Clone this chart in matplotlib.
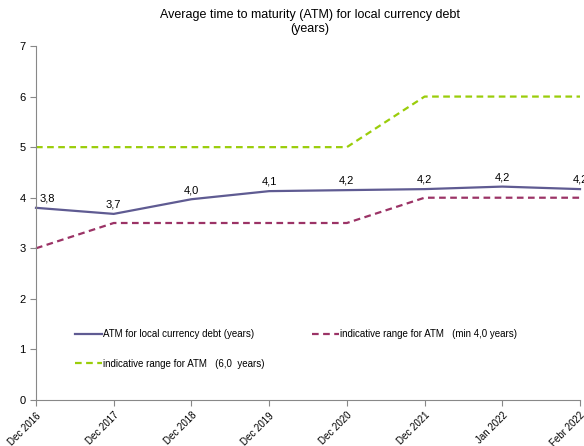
import matplotlib
matplotlib.use("Agg")
import matplotlib.pyplot as plt

plt.rcParams['font.family'] = ['Liberation Sans', 'DejaVu Sans']

categories = ["Dec 2016", "Dec 2017", "Dec 2018", "Dec 2019", "Dec 2020", "Dec 2021", "Jan 2022", "Febr 2022"]
atm = [3.8, 3.68, 3.97, 4.13, 4.15, 4.17, 4.22, 4.17]
atm_labels = ["3,8", "3,7", "4,0", "4,1", "4,2", "4,2", "4,2", "4,2"]
range_min = [3.0, 3.5, 3.5, 3.5, 3.5, 4.0, 4.0, 4.0]
range_max = [5.0, 5.0, 5.0, 5.0, 5.0, 6.0, 6.0, 6.0]

fig = plt.figure(figsize=(5.84, 4.46), dpi=100)
ax = fig.add_axes([36/584, 1-400/446, (580-36)/584, (400-46)/446])

x = list(range(len(categories)))
l1, = ax.plot(x, atm, color='#5F5B92', lw=1.6, label='ATM for local currency debt (years)', clip_on=False)
l2, = ax.plot(x, range_min, color='#9B3366', lw=1.6, ls=(0, (3, 2)), label='indicative range for ATM   (min 4,0 years)', clip_on=False)
l3, = ax.plot(x, range_max, color='#9ACD0A', lw=1.6, ls=(0, (3, 2)), label='indicative range for ATM   (6,0  years)', clip_on=False)

for i, (xi, yi, t) in enumerate(zip(x, atm, atm_labels)):
    dx = 8 if i == 0 else 0
    ax.annotate(t, (xi, yi), xytext=(dx, 3), textcoords='offset points', ha='center', va='bottom', fontsize=8)

ax.set_xlim(0, len(categories) - 1)
ax.set_ylim(0, 7)
ax.set_yticks(range(0, 8))
ax.set_xticks(x)
ax.set_xticklabels(categories, rotation=45, ha='right', rotation_mode='anchor', fontsize=7)
ax.tick_params(axis='y', labelsize=8, length=4, color='#888888', width=0.8)
ax.tick_params(axis='x', length=4, color='#888888', width=0.8, direction='out')
for s in ['top', 'right']:
    ax.spines[s].set_visible(False)
for s in ['left', 'bottom']:
    ax.spines[s].set_color('#888888')
    ax.spines[s].set_linewidth(0.8)

ax.set_title('Average time to maturity (ATM) for local currency debt\n(years)', fontsize=9, x=(310-36)/(580-36), pad=10)

leg = ax.legend(handles=[l1, l3, l2], ncol=2, frameon=False, fontsize=7,
                loc='upper left', bbox_to_anchor=(0.055, 0.225), handlelength=2.8,
                handletextpad=0.1, labelspacing=2.0, columnspacing=4.9)

fig.savefig('out.png', dpi=100)
